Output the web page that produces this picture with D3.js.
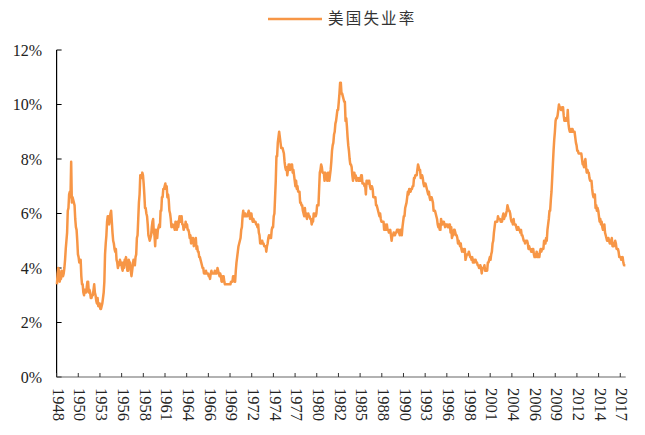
<!DOCTYPE html>
<meta charset="utf-8">
<title>美国失业率</title>
<style>
body { margin: 0; background: #fff; }
text { font-family: "Liberation Serif", "Noto Sans CJK SC", serif; fill: #222; }
</style>
<body>
<script src="https://d3js.org/d3.v7.min.js"></script>
<script>

var seriesName = "美国失业率";
var startYear = 1948;

// monthly unemployment rate (%), one row per year, Jan..Dec
var rates = [
  [3.4, 3.8, 4.0, 3.9, 3.5, 3.6, 3.6, 3.9, 3.8, 3.7, 3.8, 4.0],
  [4.3, 4.7, 5.0, 5.3, 6.1, 6.2, 6.7, 6.8, 6.6, 7.9, 6.4, 6.6],
  [6.5, 6.4, 6.3, 5.8, 5.5, 5.4, 5.0, 4.5, 4.4, 4.2, 4.2, 4.3],
  [3.7, 3.4, 3.4, 3.1, 3.0, 3.2, 3.1, 3.1, 3.3, 3.5, 3.5, 3.1],
  [3.2, 3.1, 2.9, 2.9, 3.0, 3.0, 3.2, 3.4, 3.1, 3.0, 2.8, 2.7],
  [2.9, 2.6, 2.6, 2.7, 2.5, 2.5, 2.6, 2.7, 2.9, 3.1, 3.5, 4.5],
  [4.9, 5.2, 5.7, 5.9, 5.9, 5.6, 5.8, 6.0, 6.1, 5.7, 5.3, 5.0],
  [4.9, 4.7, 4.6, 4.7, 4.3, 4.2, 4.0, 4.2, 4.1, 4.3, 4.2, 4.2],
  [4.0, 3.9, 4.2, 4.0, 4.3, 4.3, 4.4, 4.1, 3.9, 3.9, 4.3, 4.2],
  [4.2, 3.9, 3.7, 3.9, 4.1, 4.3, 4.2, 4.1, 4.4, 4.5, 5.1, 5.2],
  [5.8, 6.4, 6.7, 7.4, 7.4, 7.3, 7.5, 7.4, 7.1, 6.7, 6.2, 6.2],
  [6.0, 5.9, 5.6, 5.2, 5.1, 5.0, 5.1, 5.2, 5.5, 5.7, 5.8, 5.3],
  [5.2, 4.8, 5.4, 5.2, 5.1, 5.4, 5.5, 5.6, 5.5, 6.1, 6.1, 6.6],
  [6.6, 6.9, 6.9, 7.0, 7.1, 6.9, 7.0, 6.6, 6.7, 6.5, 6.1, 6.0],
  [5.8, 5.5, 5.6, 5.6, 5.5, 5.5, 5.4, 5.7, 5.6, 5.4, 5.7, 5.5],
  [5.7, 5.9, 5.7, 5.7, 5.9, 5.6, 5.6, 5.4, 5.5, 5.5, 5.7, 5.5],
  [5.6, 5.4, 5.4, 5.3, 5.1, 5.2, 4.9, 5.0, 5.1, 5.1, 4.8, 5.0],
  [4.9, 5.1, 4.7, 4.8, 4.6, 4.6, 4.4, 4.4, 4.3, 4.2, 4.1, 4.0],
  [4.0, 3.8, 3.8, 3.8, 3.9, 3.8, 3.8, 3.8, 3.7, 3.7, 3.6, 3.8],
  [3.9, 3.8, 3.8, 3.8, 3.8, 3.9, 3.8, 3.8, 3.8, 4.0, 3.9, 3.8],
  [3.7, 3.8, 3.7, 3.5, 3.5, 3.7, 3.7, 3.5, 3.4, 3.4, 3.4, 3.4],
  [3.4, 3.4, 3.4, 3.4, 3.4, 3.5, 3.5, 3.5, 3.7, 3.7, 3.5, 3.5],
  [3.9, 4.2, 4.4, 4.6, 4.8, 4.9, 5.0, 5.1, 5.4, 5.5, 5.9, 6.1],
  [5.9, 5.9, 6.0, 5.9, 5.9, 5.9, 6.0, 6.1, 6.0, 5.8, 6.0, 6.0],
  [5.8, 5.7, 5.8, 5.7, 5.7, 5.7, 5.6, 5.6, 5.5, 5.6, 5.3, 5.2],
  [4.9, 5.0, 4.9, 5.0, 4.9, 4.9, 4.8, 4.8, 4.8, 4.6, 4.8, 4.9],
  [5.1, 5.2, 5.1, 5.1, 5.1, 5.4, 5.5, 5.5, 5.9, 6.0, 6.6, 7.2],
  [8.1, 8.1, 8.6, 8.8, 9.0, 8.8, 8.6, 8.4, 8.4, 8.4, 8.3, 8.2],
  [7.9, 7.7, 7.6, 7.7, 7.4, 7.6, 7.8, 7.8, 7.6, 7.7, 7.8, 7.8],
  [7.5, 7.6, 7.4, 7.2, 7.0, 7.2, 6.9, 7.0, 6.8, 6.8, 6.8, 6.4],
  [6.4, 6.3, 6.3, 6.1, 6.0, 5.9, 6.2, 5.9, 6.0, 5.8, 5.9, 6.0],
  [5.9, 5.9, 5.8, 5.8, 5.6, 5.7, 5.7, 6.0, 5.9, 6.0, 5.9, 6.0],
  [6.3, 6.3, 6.3, 6.9, 7.5, 7.6, 7.8, 7.7, 7.5, 7.5, 7.5, 7.2],
  [7.5, 7.4, 7.4, 7.2, 7.5, 7.5, 7.2, 7.4, 7.6, 7.9, 8.3, 8.5],
  [8.6, 8.9, 9.0, 9.3, 9.4, 9.6, 9.8, 9.8, 10.1, 10.4, 10.8, 10.8],
  [10.4, 10.4, 10.3, 10.2, 10.1, 10.1, 9.4, 9.5, 9.2, 8.8, 8.5, 8.3],
  [8.0, 7.8, 7.8, 7.7, 7.4, 7.2, 7.5, 7.5, 7.3, 7.4, 7.2, 7.3],
  [7.3, 7.2, 7.2, 7.3, 7.2, 7.4, 7.4, 7.1, 7.1, 7.1, 7.0, 7.0],
  [6.7, 7.2, 7.2, 7.1, 7.2, 7.2, 7.0, 6.9, 7.0, 7.0, 6.9, 6.6],
  [6.6, 6.6, 6.6, 6.3, 6.3, 6.2, 6.1, 6.0, 5.9, 6.0, 5.8, 5.7],
  [5.7, 5.7, 5.7, 5.4, 5.6, 5.4, 5.4, 5.6, 5.4, 5.4, 5.3, 5.3],
  [5.4, 5.2, 5.0, 5.2, 5.2, 5.3, 5.2, 5.2, 5.3, 5.3, 5.4, 5.4],
  [5.4, 5.3, 5.2, 5.4, 5.4, 5.2, 5.5, 5.7, 5.9, 5.9, 6.2, 6.3],
  [6.4, 6.6, 6.8, 6.7, 6.9, 6.9, 6.8, 6.9, 6.9, 7.0, 7.0, 7.3],
  [7.3, 7.4, 7.4, 7.4, 7.6, 7.8, 7.7, 7.6, 7.6, 7.3, 7.4, 7.4],
  [7.3, 7.1, 7.0, 7.1, 7.1, 7.0, 6.9, 6.8, 6.7, 6.8, 6.6, 6.5],
  [6.6, 6.6, 6.5, 6.4, 6.1, 6.1, 6.1, 6.0, 5.9, 5.8, 5.6, 5.5],
  [5.6, 5.4, 5.4, 5.8, 5.6, 5.6, 5.7, 5.7, 5.6, 5.5, 5.6, 5.6],
  [5.6, 5.5, 5.5, 5.6, 5.6, 5.3, 5.5, 5.1, 5.2, 5.2, 5.4, 5.4],
  [5.3, 5.2, 5.2, 5.1, 4.9, 5.0, 4.9, 4.8, 4.9, 4.7, 4.6, 4.7],
  [4.6, 4.6, 4.7, 4.3, 4.4, 4.5, 4.5, 4.5, 4.6, 4.5, 4.4, 4.4],
  [4.3, 4.4, 4.2, 4.3, 4.2, 4.3, 4.3, 4.2, 4.2, 4.1, 4.1, 4.0],
  [4.0, 4.1, 4.0, 3.8, 4.0, 4.0, 4.0, 4.1, 3.9, 3.9, 3.9, 3.9],
  [4.2, 4.2, 4.3, 4.4, 4.3, 4.5, 4.6, 4.9, 5.0, 5.3, 5.5, 5.7],
  [5.7, 5.7, 5.7, 5.9, 5.8, 5.8, 5.8, 5.7, 5.7, 5.7, 5.9, 6.0],
  [5.8, 5.9, 5.9, 6.0, 6.1, 6.3, 6.2, 6.1, 6.1, 6.0, 5.8, 5.7],
  [5.7, 5.6, 5.8, 5.6, 5.6, 5.6, 5.5, 5.4, 5.4, 5.5, 5.4, 5.4],
  [5.3, 5.4, 5.2, 5.2, 5.1, 5.0, 5.0, 4.9, 5.0, 5.0, 5.0, 4.9],
  [4.7, 4.8, 4.7, 4.7, 4.6, 4.6, 4.7, 4.7, 4.5, 4.4, 4.5, 4.4],
  [4.6, 4.5, 4.4, 4.5, 4.4, 4.6, 4.7, 4.6, 4.7, 4.7, 4.7, 5.0],
  [5.0, 4.9, 5.1, 5.0, 5.4, 5.6, 5.8, 6.1, 6.1, 6.5, 6.8, 7.3],
  [7.8, 8.3, 8.7, 9.0, 9.4, 9.5, 9.5, 9.6, 9.8, 10.0, 9.9, 9.9],
  [9.8, 9.8, 9.9, 9.9, 9.6, 9.4, 9.4, 9.5, 9.5, 9.4, 9.8, 9.3],
  [9.1, 9.0, 9.0, 9.1, 9.0, 9.1, 9.0, 9.0, 9.0, 8.8, 8.6, 8.5],
  [8.3, 8.3, 8.2, 8.2, 8.2, 8.2, 8.2, 8.0, 7.8, 7.8, 7.7, 7.9],
  [8.0, 7.7, 7.5, 7.6, 7.5, 7.5, 7.3, 7.2, 7.2, 7.2, 6.9, 6.7],
  [6.6, 6.7, 6.7, 6.2, 6.3, 6.1, 6.2, 6.1, 5.9, 5.7, 5.8, 5.6],
  [5.7, 5.5, 5.4, 5.4, 5.6, 5.3, 5.2, 5.1, 5.0, 5.0, 5.1, 5.0],
  [4.9, 4.9, 5.0, 5.1, 4.8, 4.9, 4.8, 4.9, 5.0, 4.9, 4.7, 4.7],
  [4.7, 4.6, 4.4, 4.4, 4.4, 4.3, 4.3, 4.4, 4.2, 4.1, 4.1, 4.1]
];

// a label every 32 months
var tickEvery = 32;
var tickLabels = ["1948", "1950", "1953", "1956", "1958", "1961", "1964", "1966", "1969",
  "1972", "1974", "1977", "1980", "1982", "1985", "1988", "1990", "1993", "1996", "1998",
  "2001", "2004", "2006", "2009", "2012", "2014", "2017"];
var yTicks = [0, 2, 4, 6, 8, 10, 12];

var width = 645, height = 435;
var margin = {left: 56.6, right: 19.3, top: 50, bottom: 58};

var data = [];
rates.forEach(function(row, yi) {
  row.forEach(function(v, mi) {
    data.push({year: startYear + yi, month: mi + 1, value: v});
  });
});

var svg = d3.select("body").append("svg")
    .attr("width", width)
    .attr("height", height);

var x = d3.scaleLinear()
    .domain([0, data.length])
    .range([margin.left, width - margin.right]);

var y = d3.scaleLinear()
    .domain([0, 12])
    .range([height - margin.bottom, margin.top]);

// y axis
var yAxis = svg.append("g");
yAxis.append("line")
    .attr("x1", x(0)).attr("x2", x(0))
    .attr("y1", y(0)).attr("y2", y(12))
    .attr("stroke", "#000").attr("stroke-width", 1.2);
yAxis.selectAll(".tick").data(yTicks).enter().append("line")
    .attr("x1", x(0)).attr("x2", x(0) + 5)
    .attr("y1", function(d) { return y(d); })
    .attr("y2", function(d) { return y(d); })
    .attr("stroke", "#000");
yAxis.selectAll("text").data(yTicks).enter().append("text")
    .attr("x", 42)
    .attr("y", function(d) { return y(d); })
    .attr("dy", "0.35em")
    .attr("text-anchor", "end")
    .style("font-size", "16px")
    .text(function(d) { return d + "%"; });

// x axis
var xAxis = svg.append("g");
xAxis.append("line")
    .attr("x1", x(0)).attr("x2", x(data.length))
    .attr("y1", y(0)).attr("y2", y(0))
    .attr("stroke", "#666").attr("stroke-width", 1.2);
xAxis.selectAll(".tick").data(tickLabels).enter().append("line")
    .attr("x1", function(d, i) { return x(i * tickEvery); })
    .attr("x2", function(d, i) { return x(i * tickEvery); })
    .attr("y1", y(0)).attr("y2", y(0) - 4)
    .attr("stroke", "#333");
xAxis.selectAll("text").data(tickLabels).enter().append("text")
    .attr("transform", function(d, i) {
      return "translate(" + (x(i * tickEvery) + 2) + "," + 388 + ") rotate(90)";
    })
    .attr("dy", "0.35em")
    .style("font-size", "16.5px")
    .text(function(d) { return d; });

// series
var line = d3.line()
    .x(function(d, i) { return x(i + 0.5); })
    .y(function(d) { return y(d.value); });

svg.append("path")
    .datum(data)
    .attr("d", line)
    .attr("fill", "none")
    .attr("stroke", "#F79646")
    .attr("stroke-width", 2.5)
    .attr("stroke-linejoin", "round");

// legend
var legend = svg.append("g");
legend.append("line")
    .attr("x1", 268).attr("x2", 322)
    .attr("y1", 19).attr("y2", 19)
    .attr("stroke", "#F79646").attr("stroke-width", 2.5);
legend.append("text")
    .attr("x", 328).attr("y", 19)
    .attr("dy", "0.35em")
    .style("font-family", "'Noto Sans CJK SC', sans-serif")
    .style("font-size", "15.5px")
    .style("letter-spacing", "2.2px")
    .style("fill", "#333")
    .text(seriesName);

</script>
</body>
